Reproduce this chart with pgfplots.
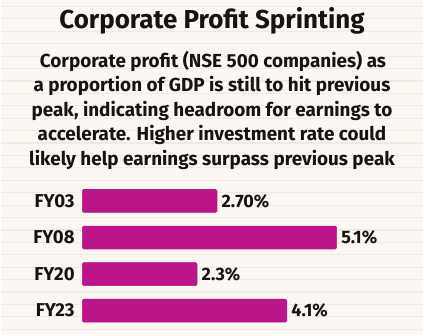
\documentclass[border=0pt]{standalone}
\usepackage{pgfplots}
\pgfplotsset{compat=1.18}
\usepackage{pgfplotstable}
\usepackage{fontspec}
\setmainfont{Fira Sans}
\definecolor{bg}{HTML}{FBF7F2}
\definecolor{ln}{HTML}{F1E9E2}
\definecolor{barc}{HTML}{BC1489}
\definecolor{txt}{HTML}{141414}
\pgfplotstableread{
y val lab
0 2.7 2.70\%
1 5.1 5.1\%
2 2.3 2.3\%
3 4.1 4.1\%
}\datatab
\begin{document}
\begin{tikzpicture}[x=0.75pt,y=0.75pt]
\fill[bg] (0,0) rectangle (424,336);
\foreach \i in {0,...,26} {\draw[ln,line width=0.9pt] (0,{329.5-\i*12.45}) -- (424,{329.5-\i*12.45});}
\node[txt,font=\fontsize{19.5}{22}\selectfont\bfseries] at (212,315) {Corporate Profit Sprinting};
\node[txt,font=\fontsize{14.2}{16}\selectfont\bfseries] at (213,274) {Corporate profit (NSE 500 companies) as};
\node[txt,font=\fontsize{14.2}{16}\selectfont\bfseries] at (212,249.5) {a proportion of GDP is still to hit previous};
\node[txt,font=\fontsize{14.2}{16}\selectfont\bfseries] at (212,225) {peak, indicating headroom for earnings to};
\node[txt,font=\fontsize{14.2}{16}\selectfont\bfseries] at (212,200.5) {accelerate. Higher investment rate could};
\node[txt,font=\fontsize{14.2}{16}\selectfont\bfseries] at (212,176) {likely help earnings surpass previous peak};
\begin{axis}[
  at={(61.5pt,4.6pt)}, anchor=south west,
  scale only axis, width=225pt, height=110pt,
  xmin=0, xmax=6, ymin=-0.5, ymax=3.5, y dir=reverse,
  axis line style={draw=none}, tick style={draw=none},
  xtick=\empty, ytick={0,1,2,3},
  yticklabels={FY03,FY08,FY20,FY23},
  yticklabel style={font=\fontsize{14}{16}\selectfont\bfseries, text=txt, xshift=2pt},
  xbar, bar width=17.25pt,
  nodes near coords, point meta=explicit symbolic,
  every node near coord/.append style={font=\fontsize{13.5}{15}\selectfont\bfseries, text=txt, anchor=west, xshift=0pt},
  clip=false,
]
\addplot[fill=barc, draw=barc, rounded corners=1pt] table[x=val, y=y, meta=lab] {\datatab};
\end{axis}
\end{tikzpicture}
\end{document}
